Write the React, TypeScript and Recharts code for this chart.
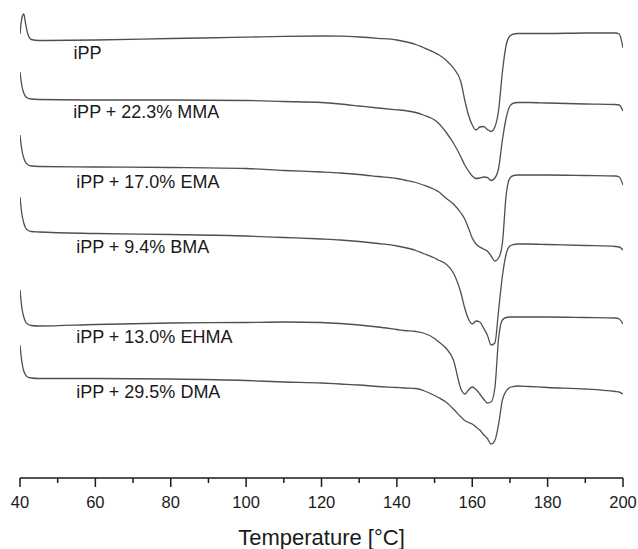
import { LineChart, Line, XAxis, YAxis, ReferenceDot } from 'recharts';

// temperature grid (°C), denser around the melting region
const temps = [
  40, 40.5, 41, 41.5, 42, 43, 45,
  60, 80, 100, 110, 120, 125, 130, 135, 140, 142, 145, 147, 150, 151, 153, 155,
  157, 158, 159, 160, 161, 162, 163, 164, 165, 166, 167, 168, 169, 170, 171, 172,
  175, 180, 190, 198, 199, 200,
];

// stacked DSC traces, offset heat flow (a.u., endo down)
const ipp = [
  34, 18, 14, 24, 33, 39.5, 40.5,
  40, 38.5, 37.2, 36.3, 36, 36.2, 37, 38.3, 40, 41.5, 44.5, 47.5, 52.5, 54.5, 60, 68,
  82, 100, 115, 125, 130, 127, 126.5, 129.5, 131.5, 127, 110, 72, 45, 36, 34, 33.5,
  33.5, 33.5, 33, 33, 34, 48,
];
const mma = [
  72, 86, 93, 96.5, 98, 99, 99.5,
  100, 100, 100.5, 101.5, 102.5, 104, 106, 108, 109.8, 110.5, 112.5, 115, 120, 123, 132, 143,
  157, 165, 171, 176, 178.5, 178, 177, 177.5, 180.5, 178, 168, 140, 118, 106, 103, 102.5,
  102.5, 103, 104, 104.5, 105, 111,
];
const ema = [
  135, 150, 158, 162.5, 164.5, 166, 166.5,
  167, 167.5, 168.5, 170.5, 172, 173, 174.5, 176.5, 178.5, 180, 182.5, 185, 189.5, 191.5, 198, 204,
  213, 219, 228, 238, 244, 247, 249, 251, 256, 261, 258, 243, 195, 178, 175.5, 175,
  175, 175, 175.5, 176, 177, 185,
];
const bma = [
  197, 214, 223, 228, 230, 231.5, 232,
  233.5, 234.5, 236, 237.5, 239, 240, 241.5, 243.5, 246, 247.5, 250.5, 253.5, 258, 260, 264, 273,
  293, 308, 319, 324, 321, 322, 328, 335, 345, 343, 310, 276, 254, 246, 244.5, 244,
  244, 244.5, 245.5, 246.5, 247, 250,
];
const ehma = [
  290, 308, 317, 322, 324, 325.5, 326,
  324.5, 323, 322.5, 322, 322.5, 323.5, 325, 327, 329.5, 330.5, 331.5, 333, 338.5, 341.5, 348, 360,
  389, 394, 390, 387, 389.5, 394, 399, 403, 402, 388, 338, 320, 317.5, 317, 317, 317,
  317, 317, 317.5, 318, 319, 324,
];
const dma = [
  345, 362, 371, 375, 377, 378, 378.5,
  378.5, 379, 380.5, 382, 383, 384, 385, 386.5, 387.5, 388, 388.5, 390.5, 395.5, 397.5, 402, 409,
  417, 420.5, 422.5, 424, 427, 430, 434.5, 438.5, 444, 440.5, 424, 400, 391, 387.5, 386.5, 386,
  386.5, 387.5, 389, 391.5, 392, 394,
];

const seriesKeys = ['ipp', 'mma', 'ema', 'bma', 'ehma', 'dma'];
const seriesNames = [
  'iPP',
  'iPP + 22.3% MMA',
  'iPP + 17.0% EMA',
  'iPP + 9.4% BMA',
  'iPP + 13.0% EHMA',
  'iPP + 29.5% DMA',
];
const xTicks = [40, 50, 60, 70, 80, 90, 100, 110, 120, 130, 140, 150, 160, 170, 180, 190, 200];

// where each sample name sits (temperature, offset)
const labelT = [54.2, 54.1, 54.9, 54.9, 54.9, 54.9];
const labelV = [58.5, 118, 188, 253, 343, 398];

const data = temps.map((t, i) => ({
  t,
  ipp: ipp[i],
  mma: mma[i],
  ema: ema[i],
  bma: bma[i],
  ehma: ehma[i],
  dma: dma[i],
}));

const INK = '#1a1a1a';
const TRACE = '#4f4f4f';

function TempTick({ x, y, payload }: any) {
  const v = payload.value;
  const major = v % 20 === 0;
  return (
    <g>
      <line x1={x} y1={y} x2={x} y2={y + (major ? 9 : 5)} stroke={INK} strokeWidth={1.5} />
      {major && (
        <text x={x} y={y + 30} textAnchor="middle" fontSize={16.5} fill={INK}>
          {v}
        </text>
      )}
    </g>
  );
}

export default function App() {
  return (
    <div
      style={{
        position: 'absolute',
        left: 0,
        top: 0,
        width: 638,
        height: 549,
        background: '#fff',
        fontFamily: '"Liberation Sans", Arial, sans-serif',
      }}
    >
      <LineChart width={638} height={549} data={data} margin={{ top: 8, right: 15, left: 20, bottom: 11 }}>
        <XAxis
          dataKey="t"
          type="number"
          domain={[40, 200]}
          ticks={xTicks}
          interval={0}
          allowDataOverflow
          height={60}
          tickSize={0}
          tickMargin={0}
          tickLine={false}
          axisLine={{ stroke: INK, strokeWidth: 1.5 }}
          tick={<TempTick />}
          label={{
            value: 'Temperature [°C]',
            position: 'insideBottom',
            offset: -7,
            fontSize: 22,
            fill: INK,
          }}
        />
        <YAxis hide type="number" reversed domain={[8, 478]} allowDataOverflow />
        {seriesKeys.map((key) => (
          <Line
            key={key}
            dataKey={key}
            type="monotone"
            stroke={TRACE}
            strokeWidth={1.3}
            dot={false}
            activeDot={false}
            isAnimationActive={false}
          />
        ))}
        {seriesNames.map((name, i) => (
          <ReferenceDot
            key={name}
            x={labelT[i]}
            y={labelV[i]}
            r={0}
            fill="none"
            stroke="none"
            ifOverflow="visible"
            label={{
              content: (p: any) => (
                <text x={p.viewBox.x} y={p.viewBox.y} fontSize={18} fill={INK}>
                  {name}
                </text>
              ),
            }}
          />
        ))}
      </LineChart>
    </div>
  );
}
